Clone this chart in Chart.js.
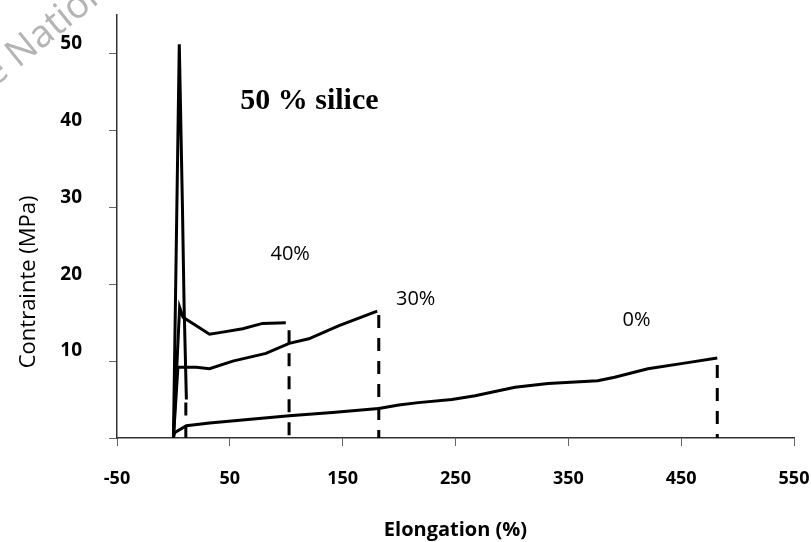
<!DOCTYPE html>
<html>
<head>
<meta charset="utf-8">
<title>Contrainte - Elongation, 50 % silice</title>
<script src="https://cdn.jsdelivr.net/npm/chart.js@4.4.1/dist/chart.umd.min.js"></script>
<style>
  html, body { margin: 0; padding: 0; background: #fff; }
  #chartTraction { display: block; }
</style>
</head>
<body>
<canvas id="chartTraction" width="811" height="542"></canvas>
<script>
// elongation (%) / contrainte (MPa)
const elong0 = [0, 1, 11.5, 32, 102.6, 140.9, 182, 199.7, 217, 246.8, 267.4, 302.7, 332, 376, 391, 420.5, 455.8, 482];
const stress0 = [0, 0.7, 1.6, 1.95, 2.9, 3.3, 3.85, 4.3, 4.6, 5.0, 5.5, 6.6, 7.1, 7.45, 7.9, 9.0, 9.8, 10.4];

const elong30 = [0, 4, 20.3, 32, 52.6, 82, 102.6, 120, 146.8, 180.6];
const stress30 = [0, 9.2, 9.2, 9.0, 10.0, 11.0, 12.3, 12.9, 14.6, 16.5];

const elong40 = [0, 5.5, 8.5, 20.3, 32, 40.9, 61.4, 79, 99.6];
const stress40 = [0, 17.0, 15.7, 14.6, 13.5, 13.7, 14.2, 14.9, 15.0];

const elong50 = [0, 5.2, 8, 9.5, 11.5];
const stress50 = [0, 51.2, 30, 17, 5];

// rupture (dashed drops)
const breakX = [11, 102.5, 182, 482];
const breakTop = [4.6, 14, 16, 9.5];

const xTickValues = [-50, 50, 150, 250, 350, 450, 550];
const yTickValues = [0, 10, 20, 30, 40, 50];

const noteTexts = ['50 % silice', '40%', '30%', '0%'];

function toPoints(xs, ys) {
  return xs.map(function (x, i) { return { x: x, y: ys[i] }; });
}

function curve(xs, ys) {
  return {
    data: toPoints(xs, ys),
    showLine: true,
    borderColor: '#000',
    borderWidth: 3,
    pointRadius: 0,
    tension: 0
  };
}

const datasets = [
  curve(elong0, stress0),
  curve(elong30, stress30),
  curve(elong40, stress40),
  curve(elong50, stress50)
];
breakX.forEach(function (bx, i) {
  datasets.push({
    data: [{ x: bx, y: breakTop[i] }, { x: bx, y: 0 }],
    showLine: true,
    borderColor: '#000',
    borderWidth: 3,
    borderDash: [13, 10],
    pointRadius: 0
  });
});

// text written on the plot, placed in data units
const notesPlugin = {
  id: 'notes',
  beforeDraw: function (chart) {
    const ctx = chart.ctx;
    ctx.save();
    ctx.translate(-6, 88);
    ctx.rotate(-0.68);
    ctx.fillStyle = '#b4b4b4';
    ctx.font = '38px "Open Sans"';
    ctx.textBaseline = 'alphabetic';
    ctx.fillText('e Nation', 0, 0);
    ctx.restore();
  },
  afterDraw: function (chart) {
    const ctx = chart.ctx;
    const xs = chart.scales.x;
    const ys = chart.scales.y;
    const places = [[120.5, 43.8], [103.5, 23.9], [214.7, 18.05], [410.5, 15.3]];
    ctx.save();
    ctx.fillStyle = '#000';
    ctx.textAlign = 'center';
    ctx.textBaseline = 'middle';
    noteTexts.forEach(function (t, i) {
      ctx.font = i === 0 ? 'bold 30px "Liberation Serif"' : '20px "Open Sans"';
      ctx.fillText(t, xs.getPixelForValue(places[i][0]), ys.getPixelForValue(places[i][1]));
    });
    // y axis title sits lower than the axis middle in the original
    ctx.translate(29, ys.getPixelForValue(20.3));
    ctx.rotate(-Math.PI / 2);
    ctx.font = '22px "Open Sans"';
    ctx.fillText('Contrainte (MPa)', 0, 0);
    ctx.restore();
  }
};

const ctxTraction = document.getElementById('chartTraction').getContext('2d');

new Chart(ctxTraction, {
  type: 'scatter',
  data: { datasets: datasets },
  options: {
    responsive: false,
    animation: false,
    layout: { padding: { top: 15, right: 17, bottom: 0, left: 0 } },
    plugins: {
      legend: { display: false },
      tooltip: { enabled: false }
    },
    scales: {
      x: {
        type: 'linear',
        min: -50,
        max: 550,
        afterBuildTicks: function (scale) {
          scale.ticks = xTickValues.map(function (v) { return { value: v }; });
        },
        afterFit: function (scale) {
          scale.height = 104;
          scale.paddingLeft = 0;
          scale.paddingRight = 0;
        },
        border: { color: '#333', width: 1.5 },
        grid: { drawOnChartArea: false, tickLength: 8, color: '#666' },
        ticks: {
          padding: 22,
          color: '#000',
          font: { family: 'Open Sans', size: 18, weight: 'bold' }
        },
        title: {
          display: true,
          text: 'Elongation (%)',
          color: '#000',
          padding: { top: 0, bottom: 0 },
          font: { family: 'Open Sans', size: 20, weight: 'bold' }
        }
      },
      y: {
        type: 'linear',
        min: 0,
        max: 55,
        afterBuildTicks: function (scale) {
          scale.ticks = yTickValues.map(function (v) { return { value: v }; });
        },
        afterFit: function (scale) {
          scale.width = 117;
          scale.paddingTop = 0;
          scale.paddingBottom = 0;
        },
        border: { color: '#333', width: 1.5 },
        grid: { drawOnChartArea: false, tickLength: 8, color: '#666' },
        ticks: {
          padding: 27,
          labelOffset: -10,
          color: '#000',
          font: { family: 'Open Sans', size: 19, weight: 'bold' },
          callback: function (v) { return v === 0 ? '' : v; }
        },
        title: { display: false }
      }
    }
  },
  plugins: [notesPlugin]
});
</script>
</body>
</html>
